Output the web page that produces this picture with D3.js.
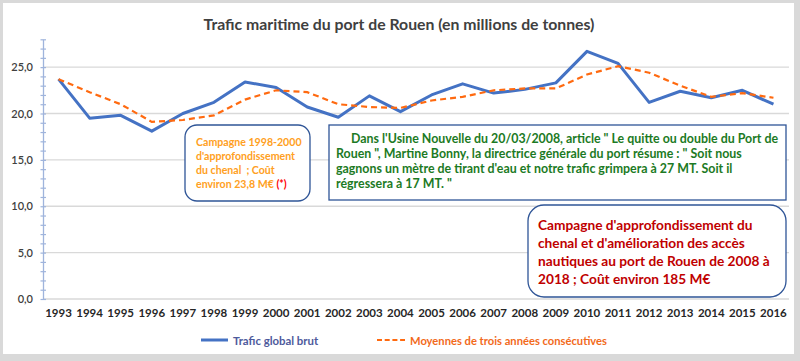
<!DOCTYPE html>
<html><head><meta charset="utf-8">
<script src="https://cdn.jsdelivr.net/npm/d3@7"></script>
<style>
html,body{margin:0;padding:0;background:#d9d9d9;}
svg{display:block;font-family:Lato,"Open Sans",sans-serif;}
</style></head>
<body>
<svg id="chart" width="800" height="361"></svg>
<script>
const years = [1993,1994,1995,1996,1997,1998,1999,2000,2001,2002,2003,2004,2005,2006,2007,2008,2009,2010,2011,2012,2013,2014,2015,2016];
const traficBrut = [23.7,19.5,19.8,18.1,20.0,21.2,23.4,22.8,20.7,19.6,21.9,20.2,22.0,23.2,22.2,22.6,23.3,26.7,25.4,21.2,22.4,21.7,22.5,21.0];
const moyennes3ans = [23.7,22.3,21.0,19.1,19.3,19.8,21.5,22.5,22.3,21.0,20.7,20.6,21.4,21.8,22.5,22.7,22.7,24.2,25.1,24.4,23.0,21.8,22.2,21.7];
const yTicks = [0,5,10,15,20,25];
const seriesNames = ["Trafic global brut","Moyennes de trois années consécutives"];
const title = "Trafic maritime du port de Rouen (en millions de tonnes)";

const svg = d3.select("#chart");
// frame
svg.append("rect").attr("x",3).attr("y",3).attr("width",791).attr("height",351).attr("fill","#ffffff");

const x = d3.scaleBand().domain(years).range([43,789]).padding(0);
const cx = d => x(d) + x.bandwidth()/2;
const y = d3.scaleLinear().domain([0,28]).range([299,39.3]);

// title
svg.append("text").attr("x",399).attr("y",30).attr("text-anchor","middle")
  .attr("font-size",15.8).attr("font-weight",700).attr("fill","#404040").text(title);

// gridlines
svg.append("g").selectAll("line").data(yTicks).join("line")
  .attr("x1",43).attr("x2",789).attr("y1",d=>y(d)).attr("y2",d=>y(d))
  .attr("stroke","#d9d9d9").attr("stroke-width",1.3);

// y axis with minor ticks
const yAxis = d3.axisLeft(y).tickValues(d3.range(0,29,1)).tickSize(0).tickFormat("");
const gy = svg.append("g").attr("transform","translate(43,0)").call(yAxis);
gy.select(".domain").attr("stroke","#9fb4dc").attr("stroke-width",1.3);
gy.selectAll(".tick line").attr("x1",-2.5).attr("x2",3).attr("stroke","#9fb4dc").attr("stroke-width",1.2);
// y labels
svg.append("g").selectAll("text").data(yTicks).join("text")
  .attr("x",33).attr("y",d=>y(d)+4).attr("text-anchor","end")
  .attr("font-size",11).attr("font-weight",600).attr("fill","#404040")
  .text(d=>d3.format(".1f")(d).replace(".",","));

// x labels
const xAxis = d3.axisBottom(x).tickSize(0).tickPadding(0);
const gx = svg.append("g").attr("transform","translate(0,312)").call(xAxis);
gx.select(".domain").remove();
gx.selectAll(".tick text").attr("font-size",11.5).attr("font-weight",700).attr("fill","#262626")
  .attr("font-family","Lato,sans-serif").attr("dy","0.71em").attr("y",-3);

// lines
const line = d3.line().x((d,i)=>cx(years[i])).y(d=>y(d));
svg.append("path").datum(traficBrut).attr("d",line).attr("fill","none")
  .attr("stroke","#4472C4").attr("stroke-width",3).attr("stroke-linejoin","round");
svg.append("path").datum(moyennes3ans).attr("d",line).attr("fill","none")
  .attr("stroke","#FF6A10").attr("stroke-width",2.2).attr("stroke-dasharray","6,4");

// annotation box 1
svg.append("rect").attr("x",185).attr("y",125).attr("width",125).attr("height",76).attr("rx",12)
  .attr("fill","#ffffff").attr("stroke","#2F5597").attr("stroke-width",1.3);
const b1 = ["Campagne 1998-2000","d'approfondissement","du chenal  ; Coût","environ 23,8 M€ "];
const t1 = svg.append("g").attr("font-size",10.6).attr("font-weight",700).attr("fill","#FFA022");
b1.forEach((s,i)=>{
  const t = t1.append("text").attr("x",196).attr("y",146+i*14).attr("xml:space","preserve").text(s);
  if(i===3) t.append("tspan").attr("fill","#FF0000").text("(*)");
});

// annotation box 2
svg.append("rect").attr("x",329).attr("y",125).attr("width",457).attr("height",75)
  .attr("fill","#ffffff").attr("stroke","#2F5597").attr("stroke-width",1.3);
const b2 = [["    Dans l'Usine Nouvelle du  20/03/2008, article \" Le quitte ou double du Port de",351],
            ["Rouen \", Martine Bonny, la directrice générale du port résume : \" Soit nous",336],
            ["gagnons un mètre de tirant d'eau et notre trafic grimpera à 27 MT. Soit il",336],
            ["régressera à 17 MT. \"",336]];
const t2 = svg.append("g").attr("font-size",12.4).attr("font-weight",700).attr("fill","#1C7A24");
b2.forEach((s,i)=>{
  t2.append("text").attr("x",s[1]).attr("y",143+i*15).text(s[0].trim());
});

// annotation box 3
svg.append("rect").attr("x",528).attr("y",205).attr("width",258).attr("height",92).attr("rx",16)
  .attr("fill","#ffffff").attr("stroke","#2F5597").attr("stroke-width",1.3);
const b3 = ["Campagne d'approfondissement du","chenal et d'amélioration des accès","nautiques au port de Rouen de 2008 à","2018 ; Coût environ 185 M€"];
const t3 = svg.append("g").attr("font-size",13.7).attr("font-weight",700).attr("fill","#C00000");
b3.forEach((s,i)=>{
  t3.append("text").attr("x",538).attr("y",230+i*18).text(s);
});

// legend
svg.append("line").attr("x1",201).attr("x2",228).attr("y1",340).attr("y2",340)
  .attr("stroke","#4472C4").attr("stroke-width",3);
svg.append("text").attr("x",233).attr("y",344.5).attr("font-size",11.4).attr("font-weight",700)
  .attr("fill","#4E5A9C").text(seriesNames[0]);
svg.append("line").attr("x1",377).attr("x2",405).attr("y1",340).attr("y2",340)
  .attr("stroke","#FF6A10").attr("stroke-width",2.2).attr("stroke-dasharray","5,2.7");
svg.append("text").attr("x",410).attr("y",344.5).attr("font-size",11.2).attr("font-weight",700)
  .attr("fill","#F26A1B").text(seriesNames[1]);
</script>
</body></html>
